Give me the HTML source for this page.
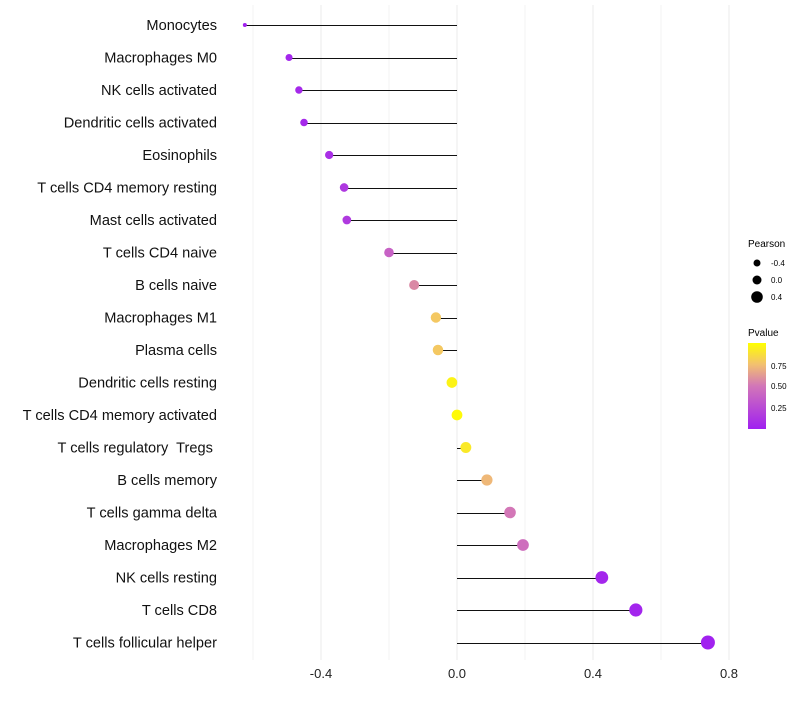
<!DOCTYPE html>
<html><head><meta charset="utf-8"><style>
body{margin:0;background:#fff;font-family:"Liberation Sans",sans-serif}
</style></head><body>
<svg id="chart" width="800" height="700" xmlns="http://www.w3.org/2000/svg" font-family="Liberation Sans, sans-serif">
<defs><linearGradient id="pg" x1="0" y1="1" x2="0" y2="0">
<stop offset="0" stop-color="#a020f0"/><stop offset="0.5" stop-color="#d276b8"/><stop offset="0.75" stop-color="#f2c070"/><stop offset="1" stop-color="#ffff00"/>
</linearGradient></defs>
<g id="grid"></g><g id="marks"></g><g id="labels"></g>
<g>
<text x="748" y="247" font-size="10">Pearson</text>
<circle cx="757" cy="263" r="3.5" fill="#000"/><text x="771" y="266" font-size="8">-0.4</text>
<circle cx="757" cy="280" r="4.5" fill="#000"/><text x="771" y="283" font-size="8">0.0</text>
<circle cx="757" cy="297" r="5.8" fill="#000"/><text x="771" y="300" font-size="8">0.4</text>
<text x="748" y="336" font-size="10">Pvalue</text>
<rect x="748" y="343" width="18" height="86" fill="url(#pg)"/>
<text x="771" y="369" font-size="8">0.75</text><text x="771" y="389" font-size="8">0.50</text><text x="771" y="411" font-size="8">0.25</text>
</g>
</svg>
<script>
const categories=["Monocytes","Macrophages M0","NK cells activated","Dendritic cells activated","Eosinophils","T cells CD4 memory resting","Mast cells activated","T cells CD4 naive","B cells naive","Macrophages M1","Plasma cells","Dendritic cells resting","T cells CD4 memory activated","T cells regulatory  Tregs ","B cells memory","T cells gamma delta","Macrophages M2","NK cells resting","T cells CD8","T cells follicular helper"];
const pearson=[-0.624,-0.494,-0.465,-0.45,-0.376,-0.332,-0.324,-0.2,-0.126,-0.062,-0.056,-0.015,0.0,0.026,0.088,0.156,0.194,0.426,0.526,0.738];
const pvalues=[0.02,0.05,0.06,0.06,0.1,0.15,0.16,0.4,0.58,0.8,0.8,0.97,1.0,0.93,0.74,0.52,0.47,0.05,0.04,0.02];
const xTicks=[-0.4,0.0,0.4,0.8];
const xMinor=[-0.6,-0.2,0.2,0.6];
const NS="http://www.w3.org/2000/svg";
const xs=v=>457+v*340;
const ys=i=>25+i*32.5;
const pMin=Math.min(...pearson),pMax=Math.max(...pearson);
const rs=v=>2+5*Math.sqrt(Math.max(0,(v-pMin)/(pMax-pMin)));
function mk(t,a,p){const e=document.createElementNS(NS,t);for(const k in a)e.setAttribute(k,a[k]);p.appendChild(e);return e;}
function lerp(a,b,t){return a.map((x,i)=>Math.round(x+(b[i]-x)*t));}
function col(p){const st=[[0,[160,32,240]],[0.5,[210,118,184]],[0.75,[242,192,112]],[1,[255,255,0]]];
const q=(p-0.01)/(1.02-0.01);for(let i=1;i<st.length;i++){if(q<=st[i][0]){const t=(q-st[i-1][0])/(st[i][0]-st[i-1][0]);return "rgb("+lerp(st[i-1][1],st[i][1],Math.max(0,t)).join(",")+")";}}return "rgb(255,255,0)";}
const g=document.getElementById('grid'),m=document.getElementById('marks'),L=document.getElementById('labels');
xMinor.forEach(v=>{const l=mk('line',{x1:xs(v),x2:xs(v),y1:5,y2:660,stroke:'#f3f3f3','stroke-width':1},g);

});
xTicks.forEach(v=>{const l=mk('line',{x1:xs(v),x2:xs(v),y1:5,y2:660,stroke:'#ebebeb','stroke-width':1},g);


const t=mk('text',{x:xs(v),y:678,'text-anchor':'middle','font-size':13,fill:'#222'},L);t.textContent=v.toFixed(1);

});
categories.forEach((c,i)=>{
const t=mk('text',{x:217,y:ys(i)+5,'text-anchor':'end','font-size':14.6,fill:'#111',style:'white-space:pre'},L);t.textContent=c;


const yl=Math.round(ys(i))+0.5;
const ln=mk('line',{x1:xs(0),x2:xs(pearson[i]),y1:yl,y2:yl,stroke:'#111','stroke-width':1},m);


const ci=mk('circle',{cx:xs(pearson[i]),cy:ys(i),r:rs(pearson[i]),fill:col(pvalues[i])},m);


});
</script>
</body></html>
